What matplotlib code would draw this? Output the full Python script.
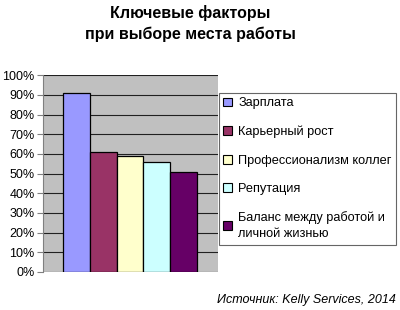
import matplotlib
matplotlib.use('Agg')
from matplotlib import pyplot as plt
from matplotlib.patches import Patch

plt.rcParams['font.family'] = ['Liberation Sans', 'DejaVu Sans']

factors = ['Зарплата', 'Карьерный рост', 'Профессионализм коллег',
           'Репутация', 'Баланс между работой и\nличной жизнью']
shares = [91, 61, 59, 56, 51]
colors = ['#9999FF', '#993366', '#FFFFCC', '#CCFFFF', '#660066']
yticks = list(range(0, 101, 10))

fig = plt.figure(figsize=(4, 3.1), dpi=100)
ax = fig.add_axes([0.1075, 0.1226, 0.4375, 0.635])
ax.set_facecolor('#C0C0C0')

x = list(range(len(shares)))
ax.bar(x, shares, width=1.0, color=colors, edgecolor='black', linewidth=0.9, zorder=3)

ax.set_xlim(-1.24, 5.28)
ax.set_ylim(0, 100)
ax.set_yticks(yticks)
ax.set_yticklabels([f'{v}%' for v in yticks], fontsize=9)
ax.set_xticks([])
ax.yaxis.grid(True, color='#202020', linewidth=0.8, zorder=1)
for s in ['top', 'right', 'bottom']:
    ax.spines[s].set_visible(False)
ax.spines['left'].set_color('#808080')
ax.tick_params(axis='y', length=4, color='#808080', pad=2)

handles = [Patch(facecolor=c, edgecolor='black', linewidth=0.8) for c in colors]
leg = fig.legend(handles, factors, loc='upper left',
                 bbox_to_anchor=(219 / 400, 1 - 93 / 310),
                 fontsize=9.2, frameon=True, fancybox=False,
                 handlelength=0.7, handleheight=0.7, handletextpad=0.45,
                 labelspacing=1.28, borderpad=0.35, borderaxespad=0)
for t in leg.get_texts():
    t.set_linespacing(1.45)
leg.get_frame().set_edgecolor('#404040')
leg.get_frame().set_linewidth(0.8)

fig.text(0.475, 0.985, 'Ключевые факторы\nпри выборе места работы',
         ha='center', va='top', fontsize=11.5, fontweight='bold', linespacing=1.45)
fig.text(0.99, 10 / 310, 'Источник: Kelly Services, 2014',
         ha='right', va='center', fontsize=9, style='italic')

fig.savefig('out.png', dpi=100)
